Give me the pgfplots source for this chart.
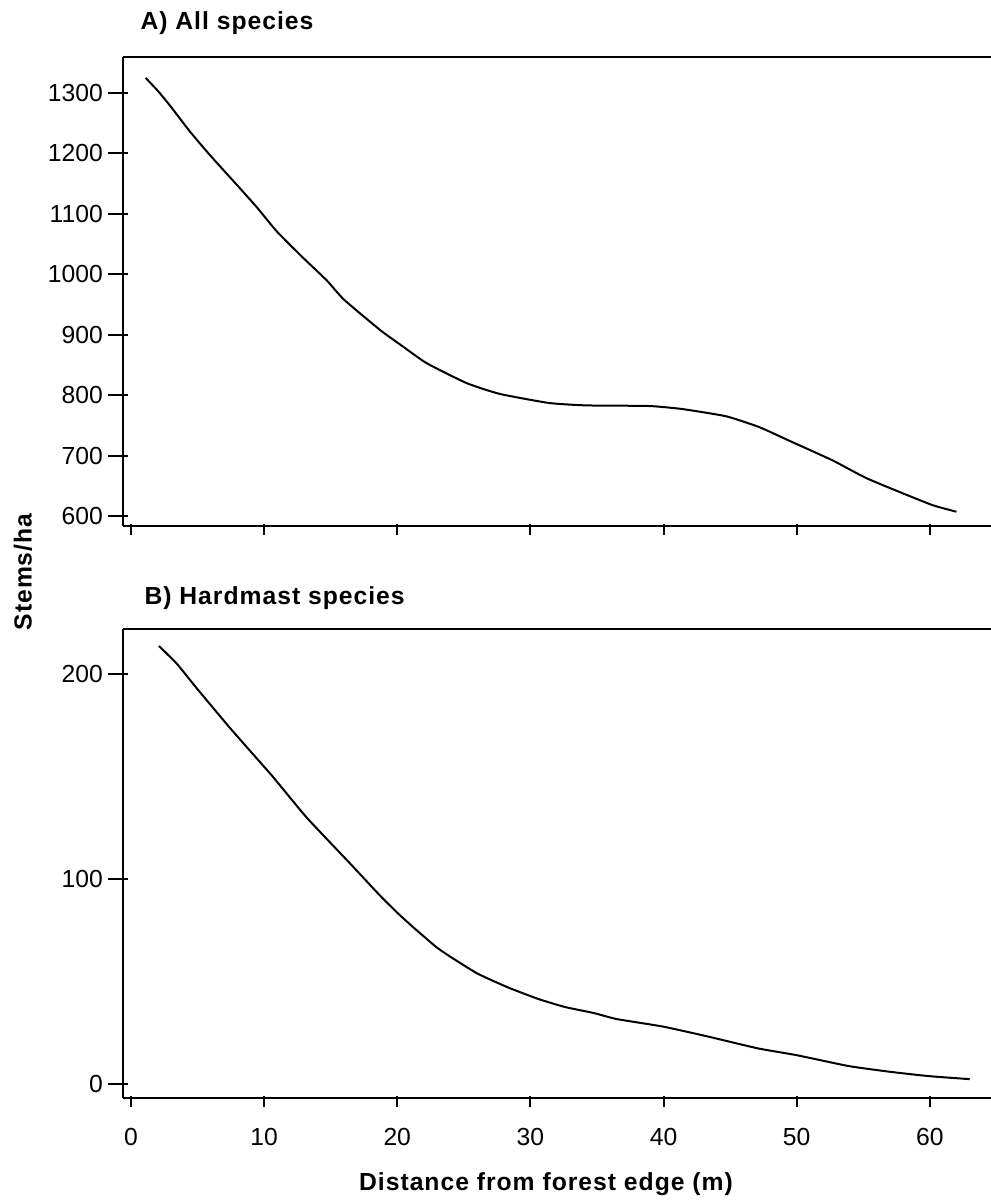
\documentclass[border=0pt]{standalone}
\usepackage{pgfplots}
\pgfplotsset{compat=1.18}
\usepackage{fontspec}
\setmainfont{Liberation Sans}

\pgfplotstableread{
x y
1.1 1325
2.0 1304
2.9 1280
4.4 1237
5.9 1198
7.95 1148
9.45 1111
10.95 1071
12.8 1030
14.7 990
16.0 958
18.7 908
20.2 884
22.2 853
25.2 820
27.7 802
31.4 787
34.2 783
38.9 782
41.4 777
44.7 765
47.2 747
49.7 722
52.7 692
55.2 663
57.7 640
60.2 618
62.0 607
}\tableA

\pgfplotstableread{
x y
2.1 213.7
3.45 205
4.95 193
7.4 174
9.7 157
10.65 150
13.2 130
16.4 108
18.7 92
20.05 83.3
21.2 76.5
22.9 67
23.9 62.5
26.0 54.0
28.3 47.2
30.6 41.5
32.6 37.6
34.8 34.6
36.5 31.7
40.0 28.0
43.4 23.1
47.1 17.4
50.0 14.1
53.9 8.8
57.0 6.0
59.9 3.9
63.0 2.4
}\tableB

\pgfplotsset{
  myax/.style={
    scale only axis,
    width=868bp, height=469bp,
    xmin=-0.6, xmax=64.6,
    axis y line*=left,
    axis line style={line width=2.5bp, -},
    xtick={0,10,...,60},
    xtick pos=bottom,
    tick align=inside,
    major tick length=20bp,
    tick style={line width=2bp, black},
    ytick style={xshift=-15bp},
    xtick style={yshift=-9bp, /pgfplots/major tick length=11bp},
    tick label style={font=\fontsize{24.7bp}{30bp}\selectfont},
    /pgf/number format/assume math mode=true,
    /pgf/number format/1000 sep={},
    yticklabel style={inner sep=0pt, anchor=east, xshift=-20bp},
    xticklabel style={inner sep=0pt, anchor=north, yshift=-30bp},
  }
}

\begin{document}
\begin{tikzpicture}[font=\fontsize{24.7bp}{30bp}\selectfont]
\path[use as bounding box] (0,0) rectangle (991bp,-1200bp);

\begin{axis}[myax, at={(123bp,-57bp)}, anchor=north west,
  ymin=583.4, ymax=1359.6,
  ytick={600,700,...,1300},
  xticklabels={}]
\addplot[black, line width=2bp, smooth, tension=0.3] table[x=x,y=y] {\tableA};
\end{axis}

\begin{axis}[myax, at={(123bp,-629bp)}, anchor=north west,
  ymin=-6.8, ymax=222,
  ytick={0,100,200}]
\addplot[black, line width=2bp, smooth, tension=0.3] table[x=x,y=y] {\tableB};
\end{axis}

\node[anchor=base west, font=\fontsize{24.7bp}{30bp}\selectfont\bfseries\addfontfeatures{LetterSpace=4}] at (137bp,-29bp) {A) All species};
\node[anchor=base west, font=\fontsize{24.7bp}{30bp}\selectfont\bfseries\addfontfeatures{LetterSpace=4}] at (141bp,-604bp) {B) Hardmast species};
\node[anchor=base, font=\fontsize{24.7bp}{30bp}\selectfont\bfseries\addfontfeatures{LetterSpace=4}] at (546bp,-1190bp) {Distance from forest edge (m)};
\node[rotate=90, font=\fontsize{24.7bp}{30bp}\selectfont\bfseries\addfontfeatures{LetterSpace=4}] at (23bp,-572bp) {Stems/ha};
\end{tikzpicture}
\end{document}
